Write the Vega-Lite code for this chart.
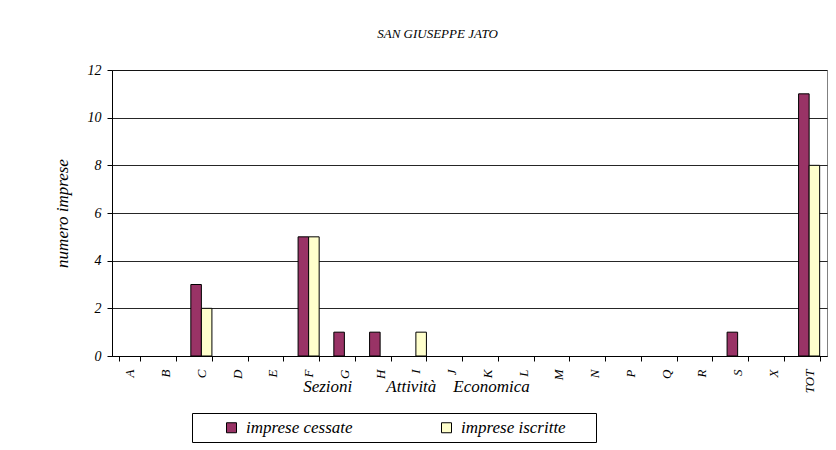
{
  "$schema": "https://vega.github.io/schema/vega-lite/v6.json",
  "width": 715,
  "height": 286,
  "autosize": {"type": "none"},
  "padding": {"left": 112, "top": 70, "right": 9, "bottom": 94},
  "background": "white",
  "title": {
    "text": "SAN GIUSEPPE JATO",
    "font": "Liberation Serif",
    "fontStyle": "italic",
    "fontWeight": "normal",
    "fontSize": 13,
    "color": "black",
    "anchor": "middle",
    "dx": -32,
    "offset": 22
  },
  "data": {
    "values": [
      {"sezione": "C", "serie": "imprese cessate", "valore": 3},
      {"sezione": "C", "serie": "imprese iscritte", "valore": 2},
      {"sezione": "F", "serie": "imprese cessate", "valore": 5},
      {"sezione": "F", "serie": "imprese iscritte", "valore": 5},
      {"sezione": "G", "serie": "imprese cessate", "valore": 1},
      {"sezione": "H", "serie": "imprese cessate", "valore": 1},
      {"sezione": "I", "serie": "imprese iscritte", "valore": 1},
      {"sezione": "S", "serie": "imprese cessate", "valore": 1},
      {"sezione": "TOT", "serie": "imprese cessate", "valore": 11},
      {"sezione": "TOT", "serie": "imprese iscritte", "valore": 8}
    ]
  },
  "mark": {"type": "bar", "stroke": "black", "strokeWidth": 1},
  "encoding": {
    "x": {
      "field": "sezione",
      "type": "nominal",
      "scale": {"domain": ["A","B","C","D","E","F","G","H","I","J","K","L","M","N","P","Q","R","S","X","TOT"], "paddingInner": 0.41, "paddingOuter": 0.205},
      "axis": {
        "title": "Sezioni\u00a0\u00a0\u00a0\u00a0\u00a0\u00a0\u00a0\u00a0Attività\u00a0\u00a0\u00a0\u00a0Economica",
        "titleFont": "Liberation Serif",
        "titleFontStyle": "italic",
        "titleFontWeight": "normal",
        "titleFontSize": 17,
        "titleColor": "black",
        "titleX": 304,
        "titleY": 35,
        "titleAlign": "center",
        "titleBaseline": "alphabetic",
        "labelAngle": -90,
        "labelFont": "Liberation Serif",
        "labelFontStyle": "italic",
        "labelFontSize": 13,
        "labelColor": "black",
        "labelPadding": 8,
        "tickBand": "extent",
        "tickColor": "black",
        "tickSize": 5,
        "domainColor": "black",
        "grid": false
      }
    },
    "xOffset": {"field": "serie", "type": "nominal", "scale": {"domain": ["imprese cessate", "imprese iscritte"]}},
    "y": {
      "field": "valore",
      "type": "quantitative",
      "scale": {"domain": [0, 12], "nice": false},
      "axis": {
        "values": [0, 2, 4, 6, 8, 10, 12],
        "title": "numero imprese",
        "titleFont": "Liberation Serif",
        "titleFontStyle": "italic",
        "titleFontWeight": "normal",
        "titleFontSize": 17,
        "titleColor": "black",
        "titlePadding": 16,
        "labelFont": "Liberation Serif",
        "labelFontStyle": "italic",
        "labelFontSize": 14,
        "labelColor": "black",
        "labelPadding": 6,
        "tickColor": "black",
        "tickSize": 5,
        "domainColor": "black",
        "grid": true,
        "gridColor": "black",
        "gridOpacity": 0.85
      }
    },
    "color": {
      "field": "serie",
      "type": "nominal",
      "scale": {"domain": ["imprese cessate", "imprese iscritte"], "range": ["#993366", "#FFFFCC"]},
      "legend": {
        "orient": "none",
        "legendX": 80,
        "legendY": 343,
        "direction": "horizontal",
        "columns": 2,
        "columnPadding": 61,
        "title": "\u00a0",
        "titleOrient": "left",
        "titlePadding": 25,
        "titleFontSize": 17,
        "titleFont": "Liberation Serif",
        "symbolType": "square",
        "symbolSize": 100,
        "symbolStrokeColor": "black",
        "symbolStrokeWidth": 1,
        "labelFont": "Liberation Serif",
        "labelFontStyle": "italic",
        "labelFontSize": 17,
        "labelColor": "black",
        "labelOffset": 6,
        "labelLimit": 400,
        "labelExpr": "datum.label + '\u2800\u2800'",
        "strokeColor": "black",
        "fillColor": "white",
        "padding": 6
      }
    }
  },
  "config": {
    "font": "Liberation Serif",
    "view": {"stroke": "#808080", "strokeWidth": 1}
  }
}
